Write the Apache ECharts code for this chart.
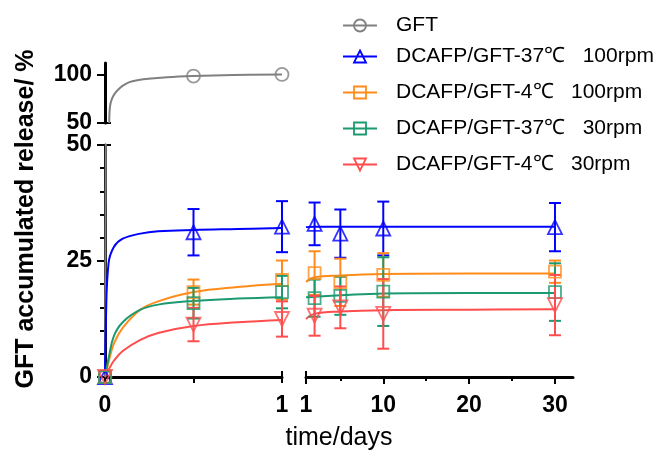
<!DOCTYPE html>
<html>
<head>
<meta charset="utf-8">
<script src="https://cdn.jsdelivr.net/npm/echarts@6/dist/echarts.min.js"></script>
<style>
  html, body { margin: 0; padding: 0; background: #fff; }
  #view { width: 663px; height: 456px; }
</style>
</head>
<body>
<div id="view"></div>
<script>
var names = ["GFT", "DCAFP/GFT-37℃   100rpm", "DCAFP/GFT-4℃   100rpm", "DCAFP/GFT-37℃   30rpm", "DCAFP/GFT-4℃   30rpm"];
var colors = ["#808080", "#0000ff", "#ff8c1a", "#1a9a6e", "#ff4d4d"];

// sampling days
var days = [0, 0.5, 1, 2, 5, 10, 30];

// measured means and errors
var gft = [0, 98.9, 100.6];
var blue = [0, 31.2, 32.4, 33.0, 30.9, 32.0, 32.3];
var blueErr = [0, 5.0, 5.5, 4.6, 5.2, 5.8, 5.2];
var orange = [0, 18.3, 20.9, 22.4, 20.4, 22.0, 22.7];
var orangeErr = [0, 2.7, 4.2, 4.7, 5.1, 4.7, 2.4];
var green = [0, 15.9, 18.3, 17.0, 17.5, 18.4, 18.3];
var greenErr = [0, 3.3, 3.5, 4.0, 4.1, 7.4, 6.2];
var red = [0, 11.3, 12.5, 13.2, 15.0, 13.6, 15.5];
var redErr = [0, 3.6, 3.8, 4.3, 4.5, 7.5, 6.5];

// fitted curves
var fitDaysLeft = [0, 0.005, 0.02, 0.05, 0.1, 0.2, 0.3, 0.5, 0.75, 1];
var blueFitLeft = [0, 12, 24.5, 28, 29.8, 30.9, 31.4, 31.7, 31.9, 32.1];
var orangeFitLeft = [0, 0.8, 3.2, 7.2, 10.6, 14.5, 16.3, 18.3, 19.4, 20.1];
var greenFitLeft = [0, 1, 4, 8.8, 11.8, 14.5, 15.6, 16.4, 16.9, 17.2];
var redFitLeft = [0, 0.4, 1.5, 3.5, 5.6, 8.0, 9.5, 11.0, 11.8, 12.3];

var fitDaysRight = [1, 2, 5, 10, 20, 30];
var blueFitRight = [32.3, 32.4, 32.4, 32.4, 32.4, 32.4];
var orangeFitRight = [20.5, 21.5, 21.9, 22.2, 22.3, 22.3];
var greenFitRight = [17.2, 17.3, 17.6, 18.0, 18.1, 18.1];
var redFitRight = [12.5, 13.6, 14.1, 14.4, 14.5, 14.6];

var gftFitDays = [0.024, 0.028, 0.056, 0.123, 0.216, 0.349, 0.5, 0.723, 1];
var gftFit = [50, 66.8, 80.8, 91.3, 95.5, 97.6, 98.9, 100, 100.6];
var gftFitLowDays = [0, 0.005];
var gftFitLow = [0, 55];

// axis ticks
var leftXLabels = [0, 1];
var rightXLabels = [1, 10, 20, 30];
var rightXMinor = [5, 15, 25];
var topYLabels = [50, 100];
var lowYLabels = [0, 25, 50];
var lowYMinor = [5, 10, 15, 20, 30, 35, 40, 45];

function pairs(xs, ys) {
  return xs.map(function (x, i) { return [x, ys[i]]; });
}
function part(vals, errs, left) {
  var out = [];
  days.forEach(function (d, i) {
    if (i >= vals.length) return;
    if ((left && d <= 1) || (!left && d > 1)) out.push([d, vals[i], errs ? errs[i] : 0]);
  });
  return out;
}

function errorBars(params, api) {
  var x = api.value(0), y = api.value(1), e = api.value(2);
  if (!e) return;
  var top = api.coord([x, y + e]);
  var bot = api.coord([x, y - e]);
  var w = 6;
  var style = { stroke: api.visual('color'), lineWidth: 2 };
  return {
    type: 'group',
    children: [
      { type: 'line', shape: { x1: top[0], y1: top[1], x2: bot[0], y2: bot[1] }, style: style },
      { type: 'line', shape: { x1: top[0] - w, y1: top[1], x2: top[0] + w, y2: top[1] }, style: style },
      { type: 'line', shape: { x1: bot[0] - w, y1: bot[1], x2: bot[0] + w, y2: bot[1] }, style: style }
    ]
  };
}

var font = 'Liberation Sans';
var axisLine = { show: true, onZero: false, lineStyle: { color: '#000', width: 3 } };
var noLine = { show: false };
var tickStyle = { color: '#000', width: 2 };
var labelStyle = { color: '#000', fontFamily: font, fontWeight: 'bold', fontSize: 23 };

var groups = [
  { name: names[1], color: colors[1], symbol: 'triangle', rotate: 0, vals: blue, errs: blueErr, fitL: blueFitLeft, fitR: blueFitRight },
  { name: names[2], color: colors[2], symbol: 'rect', rotate: 0, vals: orange, errs: orangeErr, fitL: orangeFitLeft, fitR: orangeFitRight },
  { name: names[3], color: colors[3], symbol: 'rect', rotate: 0, vals: green, errs: greenErr, fitL: greenFitLeft, fitR: greenFitRight },
  { name: names[4], color: colors[4], symbol: 'triangle', rotate: 180, vals: red, errs: redErr, fitL: redFitLeft, fitR: redFitRight }
];

var series = [];

// GFT
series.push({
  name: names[0], type: 'line', xAxisIndex: 0, yAxisIndex: 0, data: pairs(gftFitDays, gftFit),
  smooth: 0.4, showSymbol: false, symbol: 'circle', symbolSize: 13,
  lineStyle: { color: colors[0], width: 2 }, itemStyle: { color: colors[0] }, z: 2
});
series.push({
  name: names[0], type: 'line', xAxisIndex: 1, yAxisIndex: 2, data: pairs(gftFitLowDays, gftFitLow),
  showSymbol: false, lineStyle: { color: colors[0], width: 2 }, itemStyle: { color: colors[0] }, z: 2
});
series.push({
  name: names[0], type: 'scatter', xAxisIndex: 0, yAxisIndex: 0, data: pairs(days.slice(1, 3), gft.slice(1, 3)),
  symbol: 'circle', symbolSize: 13,
  itemStyle: { color: 'rgba(0,0,0,0)', borderColor: colors[0], borderWidth: 1.8 }, z: 5
});
series.push({
  name: names[0], type: 'scatter', xAxisIndex: 1, yAxisIndex: 2, data: [[days[0], gft[0]]],
  symbol: 'circle', symbolSize: 13,
  itemStyle: { color: 'rgba(0,0,0,0)', borderColor: colors[0], borderWidth: 1.8 }, z: 5
});

groups.forEach(function (g) {
  var mark = { color: 'rgba(0,0,0,0)', borderColor: g.color, borderWidth: 1.8 };
  series.push({
    name: g.name, type: 'line', xAxisIndex: 1, yAxisIndex: 2, data: pairs(fitDaysLeft, g.fitL),
    smooth: 0.4, showSymbol: false, symbol: g.symbol, symbolRotate: g.rotate, symbolSize: 13,
    lineStyle: { color: g.color, width: 2 }, itemStyle: { color: g.color }, z: 2
  });
  series.push({
    name: g.name, type: 'line', xAxisIndex: 3, yAxisIndex: 5, data: pairs(fitDaysRight, g.fitR),
    smooth: 0.4, showSymbol: false, lineStyle: { color: g.color, width: 2 }, itemStyle: { color: g.color }, z: 2
  });
  [[1, 2, true], [3, 5, false]].forEach(function (ax) {
    var pts = part(g.vals, g.errs, ax[2]);
    series.push({
      name: g.name, type: 'custom', xAxisIndex: ax[0], yAxisIndex: ax[1], data: pts,
      renderItem: errorBars, itemStyle: { color: g.color }, encode: { x: 0, y: 1 }, z: 4
    });
    series.push({
      name: g.name, type: 'scatter', xAxisIndex: ax[0], yAxisIndex: ax[1],
      data: pts.map(function (p) { return [p[0], p[1]]; }),
      symbol: g.symbol, symbolRotate: g.rotate, symbolSize: g.symbol === 'rect' ? 12 : 14,
      itemStyle: mark, z: 5
    });
  });
});

var legendText = { color: '#000', fontFamily: font, fontSize: 21, padding: [0, 0, 0, 14] };
function legendItem(i) {
  return { name: names[i], itemStyle: { color: 'rgba(0,0,0,0)', borderColor: colors[i], borderWidth: 1.8 } };
}

var option = {
  animation: false,
  backgroundColor: '#fff',
  legend: [{
    data: [legendItem(0)],
    orient: 'vertical', left: 337, top: 10,
    itemWidth: 34, itemHeight: 15, textStyle: legendText
  }, {
    data: [legendItem(1), legendItem(2), legendItem(3), legendItem(4)],
    orient: 'vertical', left: 337, top: 41, itemGap: 15,
    itemWidth: 34, itemHeight: 15, textStyle: legendText
  }],
  grid: [
    { left: 105, top: 63, width: 177, height: 60 },
    { left: 105, top: 145, width: 177, height: 232 },
    { left: 306, top: 145, width: 267, height: 232 },
    { left: 105, top: 63, width: 468, height: 314 }
  ],
  xAxis: [
    { gridIndex: 0, type: 'value', min: 0, max: 1, show: false },
    {
      gridIndex: 1, type: 'value', min: 0, max: 1, position: 'bottom', axisLine: axisLine,
      axisTick: { show: true, customValues: [0, 0.5, 1], length: 6, lineStyle: tickStyle },
      axisLabel: Object.assign({ customValues: leftXLabels, margin: 17 }, labelStyle),
      splitLine: { show: false }
    },
    {
      gridIndex: 1, type: 'value', min: 0, max: 1, position: 'bottom', axisLine: noLine,
      axisTick: { show: true, inside: true, customValues: [1], length: 6, lineStyle: tickStyle },
      axisLabel: { show: false }, splitLine: { show: false }
    },
    {
      gridIndex: 2, type: 'value', min: 1, max: 32.1, position: 'bottom', axisLine: axisLine,
      axisTick: { show: true, customValues: rightXLabels, length: 7, lineStyle: tickStyle },
      axisLabel: Object.assign({ customValues: rightXLabels, margin: 17 }, labelStyle),
      splitLine: { show: false }
    },
    {
      gridIndex: 2, type: 'value', min: 1, max: 32.1, position: 'bottom', axisLine: noLine,
      axisTick: { show: true, customValues: rightXMinor, length: 4, lineStyle: tickStyle },
      axisLabel: { show: false }, splitLine: { show: false }
    },
    {
      gridIndex: 2, type: 'value', min: 1, max: 32.1, position: 'bottom', axisLine: noLine,
      axisTick: { show: true, inside: true, customValues: [1], length: 6, lineStyle: tickStyle },
      axisLabel: { show: false }, splitLine: { show: false }
    },
    {
      gridIndex: 3, type: 'value', min: 0, max: 1, position: 'bottom', axisLine: noLine,
      axisTick: { show: false }, axisLabel: { show: false }, splitLine: { show: false },
      name: 'time/days', nameLocation: 'middle', nameGap: 51,
      nameTextStyle: { color: '#000', fontFamily: font, fontSize: 25 }
    }
  ],
  yAxis: [
    {
      gridIndex: 0, type: 'value', min: 50, max: 112.5, position: 'left', axisLine: axisLine,
      axisTick: { show: true, customValues: topYLabels, length: 8, lineStyle: tickStyle },
      axisLabel: Object.assign({ customValues: topYLabels, margin: 13 }, labelStyle),
      splitLine: { show: false }
    },
    {
      gridIndex: 0, type: 'value', min: 50, max: 112.5, position: 'left', axisLine: noLine,
      axisTick: { show: true, inside: true, customValues: [50], length: 6, lineStyle: tickStyle },
      axisLabel: { show: false }, splitLine: { show: false }
    },
    {
      gridIndex: 1, type: 'value', min: 0, max: 50, position: 'left', axisLine: axisLine,
      axisTick: { show: true, customValues: lowYLabels, length: 8, lineStyle: tickStyle },
      axisLabel: Object.assign({ customValues: lowYLabels, margin: 13 }, labelStyle),
      splitLine: { show: false }
    },
    {
      gridIndex: 1, type: 'value', min: 0, max: 50, position: 'left', axisLine: noLine,
      axisTick: { show: true, customValues: lowYMinor, length: 5, lineStyle: tickStyle },
      axisLabel: { show: false }, splitLine: { show: false }
    },
    {
      gridIndex: 1, type: 'value', min: 0, max: 50, position: 'left', axisLine: noLine,
      axisTick: { show: true, inside: true, customValues: [50], length: 6, lineStyle: tickStyle },
      axisLabel: { show: false }, splitLine: { show: false }
    },
    { gridIndex: 2, type: 'value', min: 0, max: 50, show: false },
    {
      gridIndex: 3, type: 'value', min: 0, max: 1, position: 'left', axisLine: noLine,
      axisTick: { show: false }, axisLabel: { show: false }, splitLine: { show: false },
      name: 'GFT accumulated release/ %', nameLocation: 'middle', nameGap: 66,
      nameTextStyle: { color: '#000', fontFamily: font, fontWeight: 'bold', fontSize: 25 }
    }
  ],
  series: series
};

echarts.init(document.getElementById('view')).setOption(option);
</script>
</body>
</html>
